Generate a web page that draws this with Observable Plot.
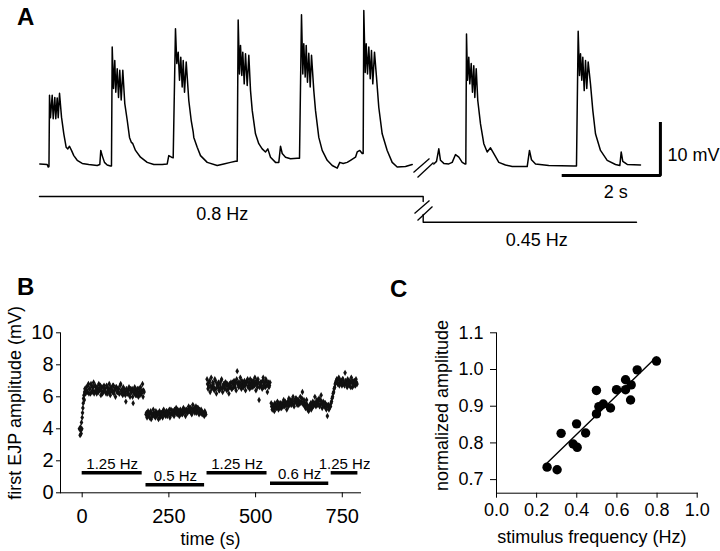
<!DOCTYPE html>
<html>
<head>
<meta charset="utf-8">
<script src="https://cdn.jsdelivr.net/npm/d3@7"></script>
<script src="https://cdn.jsdelivr.net/npm/@observablehq/plot@0.6"></script>
<style>
html,body{margin:0;padding:0;background:#fff;}
#fig{position:relative;width:720px;height:551px;font-family:"Liberation Sans",Arial,Helvetica,sans-serif;background:#fff;}
.panel{position:absolute;}
.letter{position:absolute;font-weight:bold;font-size:24px;line-height:1;z-index:5;}
</style>
</head>
<body>
<div id="fig">
  <div class="panel" id="pA" style="left:0;top:0;width:720px;height:260px"></div>
  <div class="panel" id="pB" style="left:0;top:260px;width:370px;height:291px"></div>
  <div class="panel" id="pC" style="left:370px;top:260px;width:350px;height:291px"></div>
  <div class="letter" style="left:17px;top:5px">A</div>
  <div class="letter" style="left:17px;top:275px">B</div>
  <div class="letter" style="left:390px;top:277px">C</div>
</div>
<script>
// ---------------- DATA ----------------
// Panel A: membrane potential trace (time in s, potential in mV above rest)
const preT = [0.006,0.158,0.179,0.195,0.206,0.226,0.261,0.282,0.315,0.335,0.364,0.385,0.412,0.453,0.5,0.549,0.582,0.617,0.658,0.706,0.776,0.879,1.014,1.187,1.241,1.261,1.29,1.337,1.393,1.461,1.481,
1.496,1.523,1.549,1.570,1.599,1.626,1.652,1.681,1.714,1.755,1.805,1.852,1.887,1.92,1.975,2.078,2.216,2.352,2.525,2.628,2.66,2.716,2.751,
2.798,2.825,2.854,2.881,2.907,2.936,2.957,2.984,3.019,3.072,3.121,3.163,3.175,3.245,3.313,3.451,3.656,3.792,3.93,4.033,4.068,
4.088,4.115,4.136,4.163,4.183,4.212,4.239,4.274,4.307,4.342,4.377,4.444,4.512,4.582,4.65,4.698,4.753,4.856,4.924,4.959,4.994,5.062,5.165,5.302,5.35,
5.391,5.418,5.438,5.467,5.488,5.514,5.541,5.57,5.597,5.644,5.679,5.747,5.817,5.92,6.023,6.126,6.179,6.249,6.331,6.399,6.502,6.537,6.591,6.64,6.66,
6.673,6.702,6.722,6.749,6.776,6.805,6.831,6.858,6.893,6.934,6.981,7.051,7.154,7.257,7.36,7.531,7.669];
const preV = [0.3,0.2,-0.3,-0.2,13.5,9.2,13.5,9.0,13.1,9.0,13.0,9.2,13.9,9.3,6.1,3.5,3.2,3.7,2.9,1.9,1.0,0.4,0.2,0,0.2,2.9,1.9,0.6,0.1,-0.1,-0.1,
22.8,14.8,20.2,14.1,18.6,13.1,18.3,12.6,18.3,11.9,8.7,5.4,4.5,4.2,2.9,1.6,0.6,0.2,0.2,0.3,1.9,1.6,1.5,
26.3,19.6,21.8,16.4,20.8,15.1,20.2,14.1,19.9,12.5,8.7,6.4,5.4,3.5,1.9,0.6,0,0.3,0.6,0.8,0.8,
28.0,17.6,23.1,17.3,21.8,15.7,21.5,15.4,21.2,14.4,10.6,6.1,4.2,3.2,2.6,3.2,1.6,0.6,0.6,3.7,2.3,1.6,1.3,1.4,1.4,
29.0,17.6,23.4,17.0,23.1,16.0,21.6,15.1,21.2,14.4,10.6,5.4,2.9,1.0,0,-0.5,0.6,0.4,0.6,1.0,1.6,2.6,2.9,2.3,2.3,
29.8,17.9,23.4,17.6,22.8,16.7,22.1,15.7,21.8,17.0,11.2,6.1,2.9,0.6,-0.3,-0.2,0.2];
const postT = [8.113,8.169,8.216,8.251,8.319,8.422,8.492,8.56,8.628,8.698,8.751,8.772,
8.786,8.807,8.833,8.854,8.883,8.909,8.936,8.957,8.986,9.018,9.074,9.142,9.212,9.28,9.348,9.451,9.588,9.726,10.035,10.082,10.123,10.206,10.479,10.994,11.049,
11.084,11.111,11.132,11.158,11.179,11.208,11.235,11.261,11.29,11.337,11.385,11.44,11.543,11.681,11.852,11.941,11.969,12.002,12.093,12.366];
const postV = [0.3,0.8,3.2,1.0,0.4,0.3,0.6,2.1,1.6,0.6,0.3,0.3,
25.3,16.4,20.8,15.7,19.6,14.1,19.2,13.1,18.6,12.5,8.0,4.2,2.6,3.4,2.3,0.6,0.1,-0.2,-0.2,2.9,1.1,0.3,0,-0.1,-0.1,
25.8,17.3,21.5,16.4,20.8,14.4,20.2,14.8,19.9,15.7,10.6,6.1,2.9,1.0,0.2,0,2.6,0.8,0.2,0.1];
// Panel A: stimulation protocol and scale bar
const stimLabels = ["0.8 Hz", "0.45 Hz"];
const stimStart = [0, 7.895];
const stimEnd = [7.895, 12.284];
const scaleSeconds = 2, scaleMillivolts = 10;
const scaleLabels = ["2 s", "10 mV"];

// Panel B: first EJP amplitude (mV) over time (s)
const riseT = [-8,-6,-5,-4,-3,-2,-1,0,1,2,3,4,5,6,7,8,10];
const riseV = [4.0,3.6,4.1,3.9,3.7,4.4,4.0,4.7,5.0,5.3,5.6,5.9,6.1,5.8,6.3,6.5,6.2];
const segStart = [12, 184, 360, 545, 716];
const segStep = [3, 3, 3, 3, 3];
const seg1 = [6.6,6.3,6.8,6.5,6.2,6.7,6.4,6.9,6.3,6.6,6.2,6.5,6.8,6.4,6.1,6.6,6.3,6.7,6.5,6.2,6.6,6.4,6.8,6.1,6.5,6.3,6.7,6.4,6.0,6.6,6.3,6.5,6.2,6.8,6.4,6.1,6.5,6.3,5.7,6.4,6.2,6.6,6.0,6.3,6.5,5.6,6.2,6.4,6.1,6.5,6.0,6.3,6.6,6.2,6.8,6.4];
const seg2 = [4.9,4.7,5.1,4.8,5.0,4.6,4.9,5.2,4.8,4.7,5.0,4.9,4.6,5.1,4.8,5.0,4.7,5.2,4.9,4.8,5.1,4.9,5.0,4.7,5.2,4.9,5.1,4.8,5.0,5.3,4.9,5.1,4.8,5.2,5.0,4.9,5.3,5.1,4.8,5.2,5.0,5.4,5.1,5.3,4.9,5.5,5.2,5.0,5.4,5.1,5.3,4.9,5.1,5.2,4.9,5.0,4.8,5.0];
const seg3 = [7.1,6.5,6.9,6.3,7.2,6.6,6.8,6.4,7.0,6.2,6.7,6.9,6.4,6.6,7.1,6.3,6.8,6.5,6.9,6.4,6.7,6.2,6.6,6.9,6.5,6.8,7.0,6.6,6.4,7.6,6.9,6.7,7.2,6.5,6.8,6.6,7.0,6.4,6.9,7.1,6.7,6.5,6.8,7.0,6.6,6.9,7.2,6.4,6.8,7.1,5.8,6.7,6.9,6.5,7.2,6.8,6.6,7.0,6.3,6.9,6.7];
const seg4 = [5.6,5.2,5.4,5.1,5.5,5.3,5.7,5.2,5.4,5.6,5.3,5.5,5.8,5.4,5.6,5.2,5.7,5.9,5.5,5.8,5.6,6.0,5.4,5.7,5.9,5.5,5.8,5.6,6.0,5.7,6.3,5.5,5.6,5.3,5.8,5.2,5.1,5.4,5.6,5.3,5.7,5.5,6.0,5.4,5.8,5.6,5.9,5.5,6.1,5.3,5.7,5.4,5.6,5.2,4.8,5.5,5.3];
const seg5 = [5.4,5.7,6.0,6.3,6.6,6.9,7.1,6.8,7.2,6.9,7.0,6.7,7.1,6.8,7.5,6.9,6.6,7.0,6.7,6.9,7.2,6.6,6.8,7.0,6.7,6.9];
// interleaved samples, 1.5 s after each of the above
const segOffset = 1.5;
const seg1b = [6.4,6.7,6.2,6.5,6.8,6.3,6.6,6.2,6.7,6.4,6.6,6.3,6.5,6.7,6.4,6.2,6.6,6.4,6.3,6.7,6.2,6.5,6.3,6.6,6.4,6.7,6.2,6.5,6.6,6.3,6.5,6.2,6.7,6.4,6.2,6.6,6.3,6.1,6.5,6.2,6.4,6.1,6.5,6.3,6.0,6.4,6.6,6.1,6.3,6.2,6.5,6.1,6.3,6.4,6.0,6.3];
const seg2b = [5.0,4.8,4.9,4.7,5.1,4.9,4.8,5.0,4.9,5.1,4.8,5.0,4.9,4.7,5.0,4.8,5.1,4.9,5.0,5.1,4.8,5.0,5.2,4.9,5.0,5.1,4.9,5.2,5.1,5.0,5.2,5.0,5.1,4.9,5.1,5.2,5.0,5.2,5.1,5.0,5.2,5.1,5.3,5.0,5.2,5.1,5.3,5.2,5.0,5.3,5.0,5.2,5.0,5.1,5.0,4.9,5.1,4.9];
const seg3b = [6.8,6.6,7.0,6.7,6.5,6.9,6.6,7.1,6.5,6.8,6.6,6.4,6.8,7.0,6.5,6.7,6.6,6.9,6.7,6.8,6.5,6.8,6.7,6.5,6.9,6.6,6.7,6.9,7.1,6.8,6.6,6.9,6.7,7.0,6.6,6.9,6.7,6.8,7.0,6.6,6.9,7.1,6.6,6.8,7.0,6.7,6.8,7.0,6.6,6.9,6.6,6.9,6.7,7.0,6.6,6.9,7.1,6.7,6.8,6.6,6.9];
const seg4b = [5.4,5.5,5.3,5.6,5.3,5.5,5.4,5.6,5.3,5.5,5.6,5.4,5.6,5.7,5.5,5.6,5.4,5.6,5.7,5.5,5.8,5.5,5.7,5.9,5.6,5.8,5.5,5.7,5.6,5.9,5.6,5.8,5.4,5.6,5.5,5.4,5.3,5.5,5.2,5.5,5.4,5.6,5.5,5.7,5.5,5.7,5.4,5.8,5.6,5.5,5.5,5.6,5.3,5.5,5.4,5.2,5.4];
const seg5b = [5.6,5.9,6.2,6.5,6.8,7.0,6.9,7.1,6.7,7.0,6.8,7.1,6.9,6.7,7.0,6.8,7.1,6.8,7.0,6.6,6.9,7.0,6.7,6.9,7.1,6.8];
// Panel B: stimulation periods (s) and frequencies (Hz)
const barStart = [0, 184, 360, 543, 718];
const barEnd = [173, 353, 533, 711, 795];
const barFreq = [1.25, 0.5, 1.25, 0.6, 1.25];
const bTicksX = [0, 250, 500, 750];
const bTicksY = [0, 2, 4, 6, 8, 10];

// Panel C: normalized amplitude vs stimulus frequency
const freqC = [0.252,0.302,0.322,0.399,0.382,0.402,0.444,0.498,0.498,0.510,0.532,0.568,0.598,0.643,0.643,0.671,0.668,0.701,0.797];
const ampC = [0.734,0.727,0.826,0.852,0.797,0.788,0.827,0.943,0.879,0.899,0.906,0.895,0.945,0.972,0.945,0.958,0.917,0.999,1.023];
const cTicksX = [0, 0.2, 0.4, 0.6, 0.8, 1.0];
const cTicksY = [0.7, 0.8, 0.9, 1.0, 1.1];

// ---------------- BUILD ----------------
const FONT = '"Liberation Sans", Arial, Helvetica, sans-serif';

// Panel A
const trace = [];
preT.forEach((t, i) => trace.push({seg: "pre", t, v: preV[i]}));
postT.forEach((t, i) => trace.push({seg: "post", t, v: postV[i]}));

const stim = stimLabels.map((label, i) => ({label, start: stimStart[i], end: stimEnd[i]}));
const lvl1 = -5.96, lvl1b = -6.92, lvl2a = -9.42, lvl2 = -10.9;
const stimPath1 = [{t: stim[0].start, v: lvl1}, {t: stim[0].end, v: lvl1}, {t: stim[0].end, v: lvl1b}];
const stimPath2 = [{t: stim[1].start, v: lvl2a}, {t: stim[1].start, v: lvl2}, {t: stim[1].end, v: lvl2}];
const brk = preT[preT.length - 1];
const traceSlashes = [
  {x1: brk + 0.026, y1: -1.35, x2: brk + 0.356, y2: 1.35},
  {x1: brk + 0.109, y1: -2.31, x2: brk + 0.438, y2: 0.58}
];
const stimSlashes = [
  {x1: stim[0].end - 0.179, y1: -9.23, x2: stim[0].end + 0.13, y2: -6.73},
  {x1: stim[0].end - 0.117, y1: -10.58, x2: stim[0].end + 0.191, y2: -7.88}
];
const sbT = 10.776, sbV = -1.9;
const scaleBar = [
  {t: sbT, v: sbV},
  {t: sbT + scaleSeconds, v: sbV},
  {t: sbT + scaleSeconds, v: sbV + scaleMillivolts}
];

const plotA = Plot.plot({
  width: 720, height: 260,
  style: {fontFamily: FONT, background: "transparent"},
  x: {type: "linear", domain: [0, 14], range: [39, 39 + 14 * 48.6], axis: null},
  y: {type: "linear", domain: [0, 10], range: [165, 113], axis: null},
  marks: [
    Plot.line(trace, {x: "t", y: "v", z: "seg", stroke: "black", strokeWidth: 1.5, strokeLinejoin: "round"}),
    Plot.link(traceSlashes, {x1: "x1", y1: "y1", x2: "x2", y2: "y2", stroke: "black", strokeWidth: 1.3}),
    Plot.line(stimPath1, {x: "t", y: "v", stroke: "black", strokeWidth: 1.4}),
    Plot.line(stimPath2, {x: "t", y: "v", stroke: "black", strokeWidth: 1.4}),
    Plot.link(stimSlashes, {x1: "x1", y1: "y1", x2: "x2", y2: "y2", stroke: "black", strokeWidth: 1.3}),
    Plot.text([stim[0]], {x: d => (d.start + d.end) / 2, y: lvl1, text: "label", dx: -9, dy: 18, fontSize: 18, lineAnchor: "middle", fill: "black"}),
    Plot.text([stim[1]], {x: d => (d.start + d.end) / 2, y: lvl2, text: "label", dx: 7, dy: 18.5, fontSize: 18, lineAnchor: "middle", fill: "black"}),
    Plot.line(scaleBar, {x: "t", y: "v", stroke: "black", strokeWidth: 3, strokeLinejoin: "miter", strokeLinecap: "square"}),
    Plot.text([scaleLabels[0]], {x: sbT + scaleSeconds / 2, y: sbV, text: d => d, dx: 4, dy: 17, fontSize: 18, lineAnchor: "middle", fill: "black"}),
    Plot.text([scaleLabels[1]], {x: sbT + scaleSeconds, y: sbV + scaleMillivolts / 2, text: d => d, dx: 7, dy: 6, fontSize: 18, textAnchor: "start", lineAnchor: "middle", fill: "black"})
  ]
});
document.getElementById("pA").appendChild(plotA);

// Panel B
const pts = [];
riseT.forEach((t, i) => pts.push({t, amp: riseV[i]}));
[seg1, seg2, seg3, seg4, seg5].forEach((vals, s) => {
  vals.forEach((v, i) => pts.push({t: segStart[s] + i * segStep[s], amp: v}));
});
[seg1b, seg2b, seg3b, seg4b, seg5b].forEach((vals, s) => {
  vals.forEach((v, i) => pts.push({t: segStart[s] + segOffset + i * segStep[s], amp: v}));
});
const bars = barFreq.map((f, i) => ({freq: f, start: barStart[i], end: barEnd[i]}));

const plotB = Plot.plot({
  width: 370, height: 291,
  marginLeft: 60, marginRight: 10, marginTop: 72.3, marginBottom: 58.7,
  style: {fontFamily: FONT, fontSize: "20px", background: "transparent", color: "black"},
  x: {domain: [-62.5, 802.5], ticks: bTicksX, tickSize: 5, tickPadding: 11, line: true, label: null},
  y: {domain: [0, 10], ticks: bTicksY, tickSize: 4, tickPadding: 3, line: true, label: null},
  marks: [
    Plot.dot(pts, {x: "t", y: "amp", symbol: "diamond", r: 1.9, fill: "#111", stroke: null}),
    Plot.ruleY(bars, {y: "freq", x1: "start", x2: "end", stroke: "black", strokeWidth: 3.5}),
    Plot.text(bars, {x: d => (d.start + d.end) / 2, y: "freq", text: d => d.freq + " Hz", dy: -4, lineAnchor: "bottom", fontSize: 15, fill: "black"}),
    Plot.text(["time (s)"], {frameAnchor: "bottom", text: d => d, dy: 46.7, textAnchor: "middle", lineAnchor: "middle", fontSize: 18, fill: "black"}),
    Plot.text(["first EJP amplitude (mV)"], {frameAnchor: "left", text: d => d, rotate: -90, dx: -45, dy: -10, textAnchor: "middle", lineAnchor: "middle", fontSize: 18, fill: "black"})
  ]
});
document.getElementById("pB").appendChild(plotB);

// Panel C
const cData = freqC.map((f, i) => ({f, a: ampC[i]}));
const plotC = Plot.plot({
  width: 350, height: 291,
  marginLeft: 126, marginRight: 23.3, marginTop: 72.3, marginBottom: 58.3,
  style: {fontFamily: FONT, fontSize: "18px", background: "transparent", color: "black"},
  x: {domain: [0, 1], ticks: cTicksX, tickFormat: ".1f", tickSize: 5, tickPadding: 5.5, line: true, label: null},
  y: {domain: [0.663, 1.1], ticks: cTicksY, tickFormat: ".1f", tickSize: 6, tickPadding: 7, line: true, label: null},
  marks: [
    Plot.linearRegressionY(cData, {x: "f", y: "a", stroke: "black", strokeWidth: 1.4, ci: 0}),
    Plot.dot(cData, {x: "f", y: "a", r: 4.7, fill: "black", stroke: null}),
    Plot.text(["stimulus frequency (Hz)"], {frameAnchor: "bottom", text: d => d, dx: -5, dy: 44.3, textAnchor: "middle", lineAnchor: "middle", fontSize: 18, fill: "black"}),
    Plot.text(["normalized amplitude"], {frameAnchor: "left", text: d => d, rotate: -90, dx: -54, dy: -7.5, textAnchor: "middle", lineAnchor: "middle", fontSize: 18, fill: "black"})
  ]
});
document.getElementById("pC").appendChild(plotC);
</script>
</body>
</html>
